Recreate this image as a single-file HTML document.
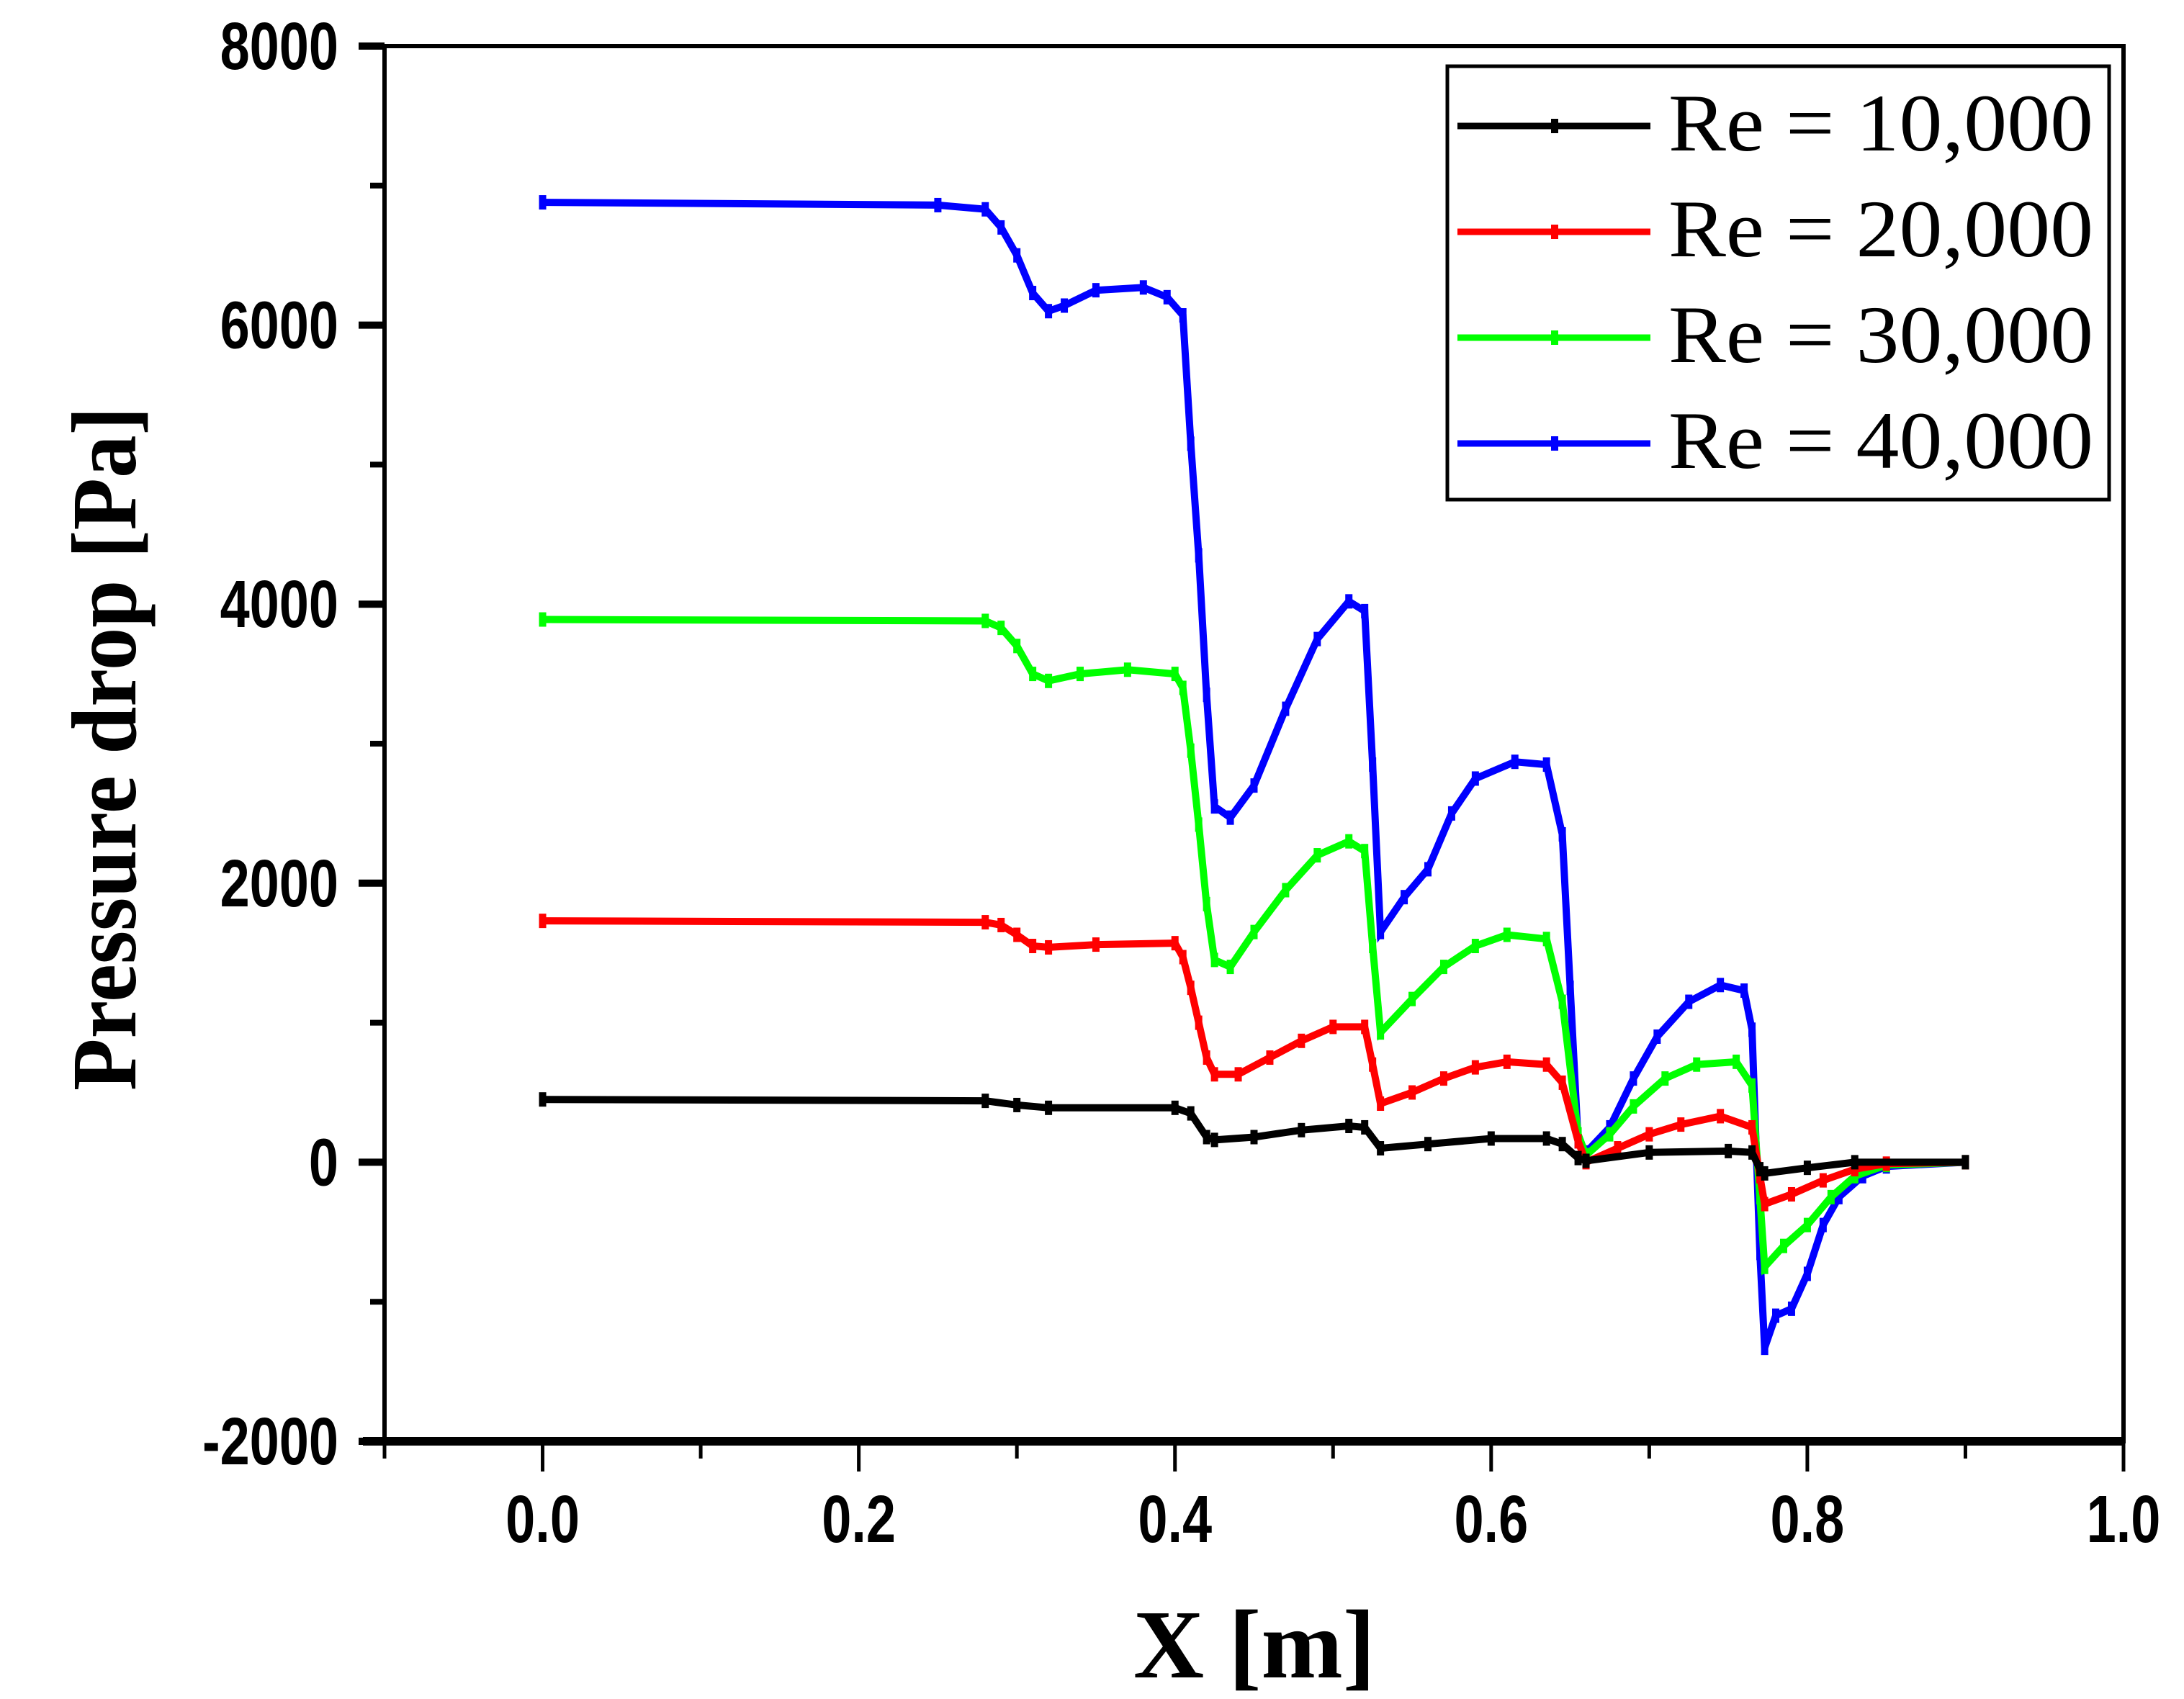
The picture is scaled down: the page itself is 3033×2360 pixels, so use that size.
<!DOCTYPE html>
<html><head><meta charset="utf-8"><style>
html,body{margin:0;padding:0;background:#fff;}
svg{display:block;}
</style></head><body>
<svg id="chart" width="3033" height="2360" viewBox="0 0 3033 2360" xmlns="http://www.w3.org/2000/svg">
<rect width="3033" height="2360" fill="#fff"/>
<g id="plot"></g>
<g id="axes"></g>
</svg>
<script>
const xTicks=[0.0,0.2,0.4,0.6,0.8,1.0];
const xTickLabels=["0.0","0.2","0.4","0.6","0.8","1.0"];
const yTicks=[-2000,0,2000,4000,6000,8000];
const yTickLabels=["-2000","0","2000","4000","6000","8000"];
const seriesNames=["Re = 10,000","Re = 20,000","Re = 30,000","Re = 40,000"];
const seriesColors=["#000000","#ff0000","#00ff00","#0000ff"];
const x40=[0,0.25,0.28,0.29,0.30,0.31,0.32,0.33,0.35,0.38,0.395,0.405,0.41,0.415,0.42,0.425,0.435,0.45,0.47,0.49,0.51,0.52,0.525,0.53,0.545,0.56,0.575,0.59,0.615,0.635,0.645,0.65,0.655,0.66,0.675,0.69,0.705,0.725,0.745,0.76,0.765,0.77,0.773,0.78,0.79,0.8,0.81,0.82,0.835,0.85,0.9];
const y40=[6880,6860,6830,6700,6500,6230,6100,6140,6250,6270,6200,6070,5150,4350,3350,2550,2470,2700,3250,3750,4020,3950,2850,1650,1900,2100,2500,2750,2870,2850,2350,1250,150,70,250,600,900,1150,1270,1230,950,-650,-1330,-1100,-1050,-800,-450,-250,-100,-30,0];
const x30=[0,0.28,0.29,0.3,0.31,0.32,0.34,0.37,0.4,0.405,0.41,0.415,0.42,0.425,0.435,0.45,0.47,0.49,0.51,0.52,0.525,0.53,0.55,0.57,0.59,0.61,0.635,0.645,0.655,0.66,0.675,0.69,0.71,0.73,0.755,0.765,0.77,0.773,0.785,0.8,0.815,0.83,0.85,0.9];
const y30=[3890,3880,3830,3700,3500,3450,3500,3530,3500,3400,2950,2420,1850,1450,1400,1650,1950,2200,2300,2230,1550,930,1170,1400,1550,1630,1600,1150,200,50,200,400,600,700,720,550,-250,-750,-600,-450,-250,-100,-20,0];
const x20=[0,0.28,0.29,0.3,0.31,0.32,0.35,0.4,0.405,0.41,0.415,0.42,0.425,0.44,0.46,0.48,0.5,0.52,0.525,0.53,0.55,0.57,0.59,0.61,0.635,0.645,0.655,0.66,0.68,0.7,0.72,0.745,0.765,0.77,0.773,0.79,0.81,0.83,0.85,0.9];
const y20=[1730,1720,1700,1630,1550,1540,1560,1570,1470,1250,1000,750,630,630,750,870,970,970,700,420,500,600,680,720,700,570,150,0,100,200,270,330,250,-100,-300,-230,-130,-50,-10,0];
const x10=[0,0.28,0.3,0.32,0.4,0.41,0.42,0.425,0.45,0.48,0.51,0.52,0.53,0.56,0.6,0.635,0.645,0.655,0.66,0.7,0.75,0.765,0.77,0.773,0.8,0.83,0.9];
const y10=[450,440,410,390,390,350,180,160,180,230,260,250,100,130,170,170,130,30,10,70,80,70,-50,-80,-40,0,0];

const NS="http://www.w3.org/2000/svg";
const L=534,R=2949,T=64,B=2002,XMIN=-0.1,XMAX=1.0,YMIN=-2000,YMAX=8000;
const sx=v=>L+(v-XMIN)/(XMAX-XMIN)*(R-L);
const sy=v=>B-(v-YMIN)/(YMAX-YMIN)*(B-T);
function mk(tag,attrs,parent){const e=document.createElementNS(NS,tag);for(const k in attrs)e.setAttribute(k,attrs[k]);parent.appendChild(e);return e;}
const plot=document.getElementById('plot'),axes=document.getElementById('axes');
const xsets=[x10,x20,x30,x40],ysets=[y10,y20,y30,y40],snames=['series-re-10000','series-re-20000','series-re-30000','series-re-40000'];
for(let s=3;s>=0;s--){
  const xs=xsets[s],ys=ysets[s];
  const pts=xs.map((x,i)=>sx(x).toFixed(1)+','+sy(ys[i]).toFixed(1)).join(' ');
  const pl=mk('polyline',{points:pts,fill:'none',stroke:seriesColors[s],'stroke-width':10,'stroke-linejoin':'miter'},plot);
  
  
  xs.forEach((x,i)=>{
    const m=mk('rect',{x:sx(x)-5,y:sy(ys[i])-10,width:10,height:20,fill:seriesColors[s]},plot);
    
    
  });
}
const fr=mk('rect',{x:L,y:T,width:R-L,height:B-T,fill:'none',stroke:'#000','stroke-width':6},axes);


mk('line',{x1:L-30,y1:B,x2:R,y2:B,stroke:'#000','stroke-width':12},axes);
for(let v=-2000;v<=8000;v+=1000){
  const major=(v%2000===0);
  const t=mk('line',{x1:L-(major?36:20),y1:sy(v),x2:L,y2:sy(v),stroke:'#000','stroke-width':major?10:8},axes);
  
  
}
yTicks.forEach((v,i)=>{
  const t=mk('text',{x:0,y:0,transform:`translate(470,${sy(v)+32}) scale(0.88,1.1)`,'text-anchor':'end','font-family':'Liberation Sans, sans-serif','font-weight':'bold','font-size':84},axes);
  t.textContent=yTickLabels[i];
  
  
});
for(let k=-1;k<=10;k++){
  const v=k/10;const major=(k%2===0);
  const t=mk('line',{x1:sx(v),y1:B,x2:sx(v),y2:B+(major?42:24),stroke:'#000','stroke-width':5},axes);
  
  
}
xTicks.forEach((v,i)=>{
  const t=mk('text',{x:0,y:0,transform:`translate(${sx(v)},2142) scale(0.88,1.1)`,'text-anchor':'middle','font-family':'Liberation Sans, sans-serif','font-weight':'bold','font-size':84},axes);
  t.textContent=xTickLabels[i];
  
  
});
const lg=mk('g',{},axes);


mk('rect',{x:2010,y:92,width:919,height:602,fill:'#fff',stroke:'#000','stroke-width':5},lg);
seriesNames.forEach((n,i)=>{
  const yy=175+i*147;
  const ln=mk('line',{x1:2024,y1:yy,x2:2292,y2:yy,stroke:seriesColors[i],'stroke-width':9},lg);
  
  
  const mkr=mk('rect',{x:2154,y:yy-10,width:10,height:20,fill:seriesColors[i]},lg);
  
  
  const t=mk('text',{x:2317,y:yy+34,'font-family':'Liberation Serif, serif','font-size':113,textLength:590,lengthAdjust:'spacingAndGlyphs'},lg);
  t.textContent=n;
  
  
});
</script>
<svg style="position:absolute;left:0;top:0" width="3033" height="2360" xmlns="http://www.w3.org/2000/svg">
<text x="1742" y="2330" text-anchor="middle" font-family="Liberation Serif, serif" font-weight="bold" font-size="136">X [m]</text>
<text transform="translate(188,1040) rotate(-90)" text-anchor="middle" font-family="Liberation Serif, serif" font-weight="bold" font-size="128" textLength="950" lengthAdjust="spacingAndGlyphs">Pressure drop [Pa]</text>
</svg>
</body></html>
